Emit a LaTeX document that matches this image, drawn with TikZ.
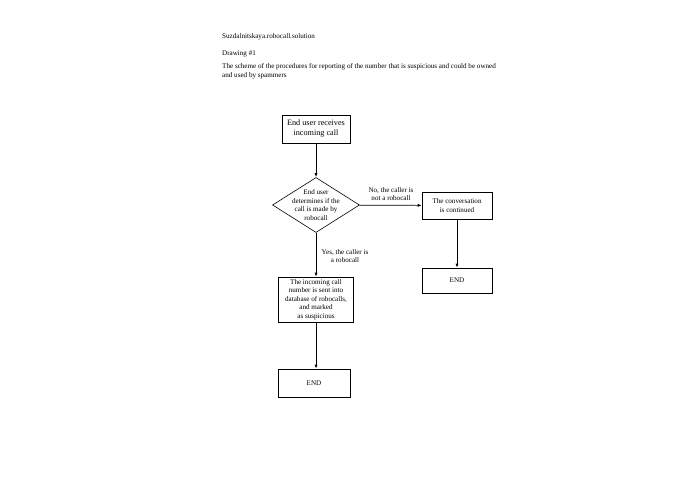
\documentclass[tikz,border=0pt]{standalone}
\usepackage{fontspec}
\setmainfont{Liberation Serif}
\usepackage{tikz}
\usetikzlibrary{arrows.meta,shapes.geometric}

\begin{document}
\begin{tikzpicture}[x=1pt, y=-1pt, font=\fontsize{7.1}{8.6}\selectfont]
\tikzstyle{stepbox}=[rectangle, draw, line width=0.6pt, inner sep=0pt, align=center]
\tikzstyle{decision}=[diamond, draw, line width=0.6pt, inner sep=0pt, minimum width=87pt, minimum height=55pt]
\tikzstyle{flow}=[-{Latex[length=4pt, width=3pt]}, line width=0.7pt]
\tikzstyle{note}=[align=center, inner sep=0pt]
\useasboundingbox (0,0) rectangle (695,494);

% heading
\node[anchor=base west, inner sep=0pt] (title) at (222,39) {Suzdalnitskaya.robocall.solution};
\node[anchor=base west, inner sep=0pt] (drawing) at (222,56) {Drawing \#1};
\node[anchor=base west, inner sep=0pt] (scheme1) at (222,69) {The scheme of the procedures for reporting of the number that is suspicious and could be owned};
\node[anchor=base west, inner sep=0pt] (scheme2) at (222,78) {and used by spammers};

% flow chart
\node[stepbox, minimum width=68pt, minimum height=28pt, font=\fontsize{8.2}{10}\selectfont] (start) at (316,129) {End user receives\\incoming call};
\node[decision] (check) at (316,205) {};
\node[note] (checktext) at (316,205) {End user\\determines if the\\call is made by\\robocall};
\node[stepbox, minimum width=70pt, minimum height=27pt] (talk) at (457,205.5) {The conversation\\is continued};
\node[stepbox, minimum width=70pt, minimum height=25pt] (endright) at (457,280.5) {END};
\node[stepbox, minimum width=75pt, minimum height=45pt] (report) at (316,299.5) {The incoming call\\number is sent into\\database of robocalls,\\and marked\\as suspicious};
\node[stepbox, minimum width=72pt, minimum height=28pt] (endleft) at (314,383) {END};

\node[note] (nolabel) at (391,194) {No, the caller is\\not a robocall};
\node[note] (yeslabel) at (345,256) {Yes, the caller is\\a robocall};

\path
(start) edge[flow] (check)
(check) edge[flow] (talk)
        edge[flow] (report)
(talk) edge[flow] (endright)
(report) edge[flow, line width=1pt] (report.south |- endleft.north);
\end{tikzpicture}
\end{document}
